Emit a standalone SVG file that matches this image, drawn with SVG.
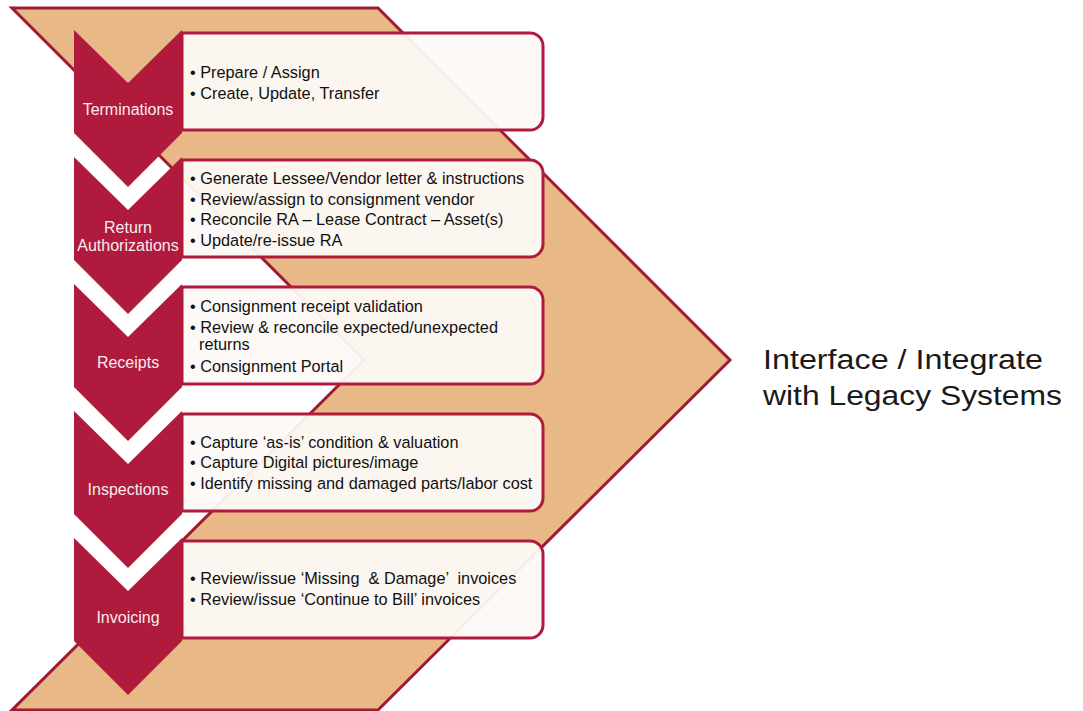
<svg xmlns="http://www.w3.org/2000/svg" width="1083" height="711" viewBox="0 0 1083 711">
<style>
.big{fill:#E9B887;stroke:#9E1B32;stroke-width:3;stroke-linejoin:miter}
.box{fill:#FCF9F5;fill-opacity:0.95;stroke:#B01A3C;stroke-width:3}
.chev{fill:#B01A3C}
.lbl{font-family:"Liberation Sans",Arial,sans-serif;font-size:16px;fill:#F9EBEE;text-anchor:middle}
.txt{font-family:"Liberation Sans",Arial,sans-serif;font-size:16.3px;fill:#111}
.side{font-family:"Liberation Sans",Arial,sans-serif;font-size:27px;fill:#1a1a1a}
</style>
<rect width="1083" height="711" fill="#fff"/>
<g id="backdrop">
<path class="big" d="M12,8 L378,8 L730,360 L378,710 L12,710 L364,360 Z"/>
</g>
<g id="connectors"></g>
<g id="step-terminations">
<path class="box" d="M182,33 H530 A13,13 0 0 1 543,46 V117 A13,13 0 0 1 530,130 H182 Z"/>
<path class="chev" d="M74,30 L128,83 L182,30 L182,133 L128,187 L74,133 Z"/>
<text class="lbl" x="128" y="115">Terminations</text>
<text class="txt" x="190" y="78">• Prepare / Assign</text>
<text class="txt" x="190" y="99">• Create, Update, Transfer</text>
</g>
<g id="step-return-authorizations">
<path class="box" d="M182,160 H530 A13,13 0 0 1 543,173 V244 A13,13 0 0 1 530,257 H182 Z"/>
<path class="chev" d="M74,157 L128,210 L182,157 L182,260 L128,314 L74,260 Z"/>
<text class="lbl" x="128" y="233">Return</text>
<text class="lbl" x="128" y="251">Authorizations</text>
<text class="txt" x="190" y="184">• Generate Lessee/Vendor letter &amp; instructions</text>
<text class="txt" x="190" y="205">• Review/assign to consignment vendor</text>
<text class="txt" x="190" y="225">• Reconcile RA – Lease Contract – Asset(s)</text>
<text class="txt" x="190" y="246">• Update/re-issue RA</text>
</g>
<g id="step-receipts">
<path class="box" d="M182,287 H530 A13,13 0 0 1 543,300 V371 A13,13 0 0 1 530,384 H182 Z"/>
<path class="chev" d="M74,284 L128,337 L182,284 L182,387 L128,441 L74,387 Z"/>
<text class="lbl" x="128" y="368">Receipts</text>
<text class="txt" x="190" y="312">• Consignment receipt validation</text>
<text class="txt" x="190" y="333">• Review &amp; reconcile expected/unexpected</text>
<text class="txt" x="199" y="350">returns</text>
<text class="txt" x="190" y="372">• Consignment Portal</text>
</g>
<g id="step-inspections">
<path class="box" d="M182,414 H530 A13,13 0 0 1 543,427 V498 A13,13 0 0 1 530,511 H182 Z"/>
<path class="chev" d="M74,411 L128,464 L182,411 L182,514 L128,568 L74,514 Z"/>
<text class="lbl" x="128" y="495">Inspections</text>
<text class="txt" x="190" y="448">• Capture ‘as-is’ condition &amp; valuation</text>
<text class="txt" x="190" y="468">• Capture Digital pictures/image</text>
<text class="txt" x="190" y="489">• Identify missing and damaged parts/labor cost</text>
</g>
<g id="step-invoicing">
<path class="box" d="M182,541 H530 A13,13 0 0 1 543,554 V625 A13,13 0 0 1 530,638 H182 Z"/>
<path class="chev" d="M74,538 L128,591 L182,538 L182,641 L128,695 L74,641 Z"/>
<text class="lbl" x="128" y="623">Invoicing</text>
<text class="txt" x="190" y="584" xml:space="preserve">• Review/issue ‘Missing  &amp; Damage’  invoices</text>
<text class="txt" x="190" y="605">• Review/issue ‘Continue to Bill’ invoices</text>
</g>
<g id="legacy-label">
<text class="side" x="763" y="369" textLength="280" lengthAdjust="spacingAndGlyphs">Interface / Integrate</text>
<text class="side" x="763" y="405" textLength="299" lengthAdjust="spacingAndGlyphs">with Legacy Systems</text>
</g>
</svg>
